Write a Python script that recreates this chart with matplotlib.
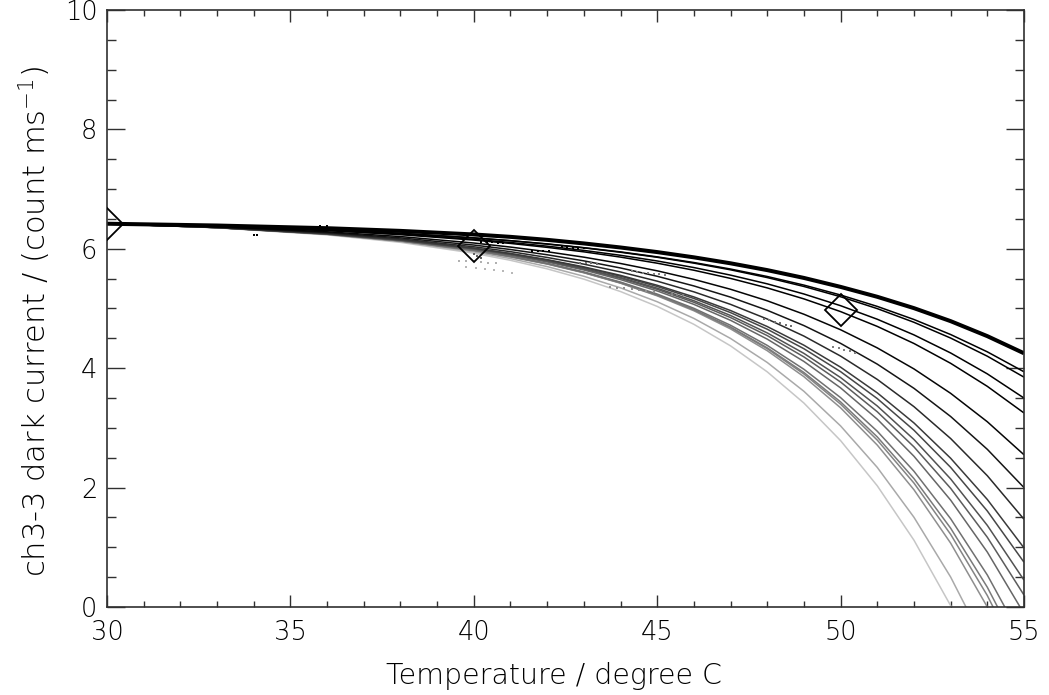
import matplotlib
matplotlib.use("Agg")
import matplotlib.pyplot as plt
from matplotlib.ticker import MultipleLocator

# Temperature grid (degree C) at which each curve was read
temperature = [30, 33, 36, 38, 40, 41, 42, 43, 44, 45, 46, 47, 48, 49, 50, 51, 52, 53, 54, 55]

# Dark current curves (count ms^-1), top (thick black) to bottom (lightest grey)
c00 = [6.42, 6.390, 6.345, 6.300, 6.240, 6.200, 6.150, 6.090, 6.022, 5.945, 5.857, 5.757, 5.643, 5.512, 5.362, 5.196, 5.006, 4.788, 4.537, 4.25]
c01 = [6.42, 6.380, 6.318, 6.260, 6.183, 6.136, 6.082, 6.019, 5.948, 5.865, 5.770, 5.661, 5.536, 5.392, 5.226, 5.035, 4.816, 4.564, 4.274, 3.94]
c02 = [6.42, 6.380, 6.318, 6.260, 6.182, 6.135, 6.079, 6.016, 5.942, 5.858, 5.760, 5.648, 5.518, 5.369, 5.197, 4.998, 4.769, 4.505, 4.201, 3.85]
c03 = [6.42, 6.376, 6.309, 6.245, 6.159, 6.106, 6.044, 5.973, 5.891, 5.796, 5.686, 5.559, 5.413, 5.243, 5.047, 4.820, 4.558, 4.255, 3.905, 3.50]
c04 = [6.42, 6.375, 6.305, 6.237, 6.146, 6.090, 6.024, 5.949, 5.861, 5.759, 5.641, 5.504, 5.345, 5.161, 4.948, 4.700, 4.414, 4.082, 3.696, 3.25]
c05 = [6.42, 6.367, 6.285, 6.205, 6.097, 6.029, 5.951, 5.860, 5.754, 5.631, 5.488, 5.322, 5.129, 4.904, 4.644, 4.340, 3.988, 3.579, 3.103, 2.55]
c06 = [6.42, 6.363, 6.272, 6.183, 6.063, 5.988, 5.900, 5.798, 5.679, 5.540, 5.378, 5.190, 4.970, 4.714, 4.416, 4.068, 3.663, 3.191, 2.641, 2.00]
c07 = [6.42, 6.359, 6.261, 6.165, 6.034, 5.952, 5.855, 5.743, 5.612, 5.458, 5.279, 5.069, 4.824, 4.538, 4.203, 3.812, 3.356, 2.822, 2.199, 1.47]
c08 = [6.42, 6.356, 6.252, 6.150, 6.011, 5.922, 5.819, 5.697, 5.555, 5.389, 5.194, 4.966, 4.698, 4.385, 4.017, 3.587, 3.083, 2.492, 1.801, 0.99]
c09 = [6.42, 6.356, 6.252, 6.149, 6.007, 5.917, 5.811, 5.687, 5.541, 5.369, 5.168, 4.931, 4.653, 4.326, 3.942, 3.491, 2.961, 2.339, 1.608, 0.75]
c10 = [6.42, 6.356, 6.251, 6.146, 6.000, 5.908, 5.799, 5.670, 5.519, 5.340, 5.130, 4.883, 4.591, 4.248, 3.843, 3.367, 2.806, 2.145, 1.367, 0.45]
c11 = [6.42, 6.356, 6.251, 6.145, 5.997, 5.903, 5.792, 5.660, 5.505, 5.321, 5.104, 4.848, 4.546, 4.189, 3.768, 3.270, 2.682, 1.988, 1.168, 0.20]
c12 = [6.42, 6.356, 6.250, 6.142, 5.992, 5.895, 5.780, 5.645, 5.484, 5.294, 5.069, 4.802, 4.487, 4.113, 3.670, 3.146, 2.525, 1.790, 0.920, -0.11]
c13 = [6.42, 6.355, 6.245, 6.134, 5.977, 5.875, 5.755, 5.612, 5.443, 5.242, 5.003, 4.719, 4.382, 3.982, 3.507, 2.944, 2.274, 1.479, 0.536, -0.59]
c14 = [6.42, 6.355, 6.246, 6.134, 5.975, 5.873, 5.751, 5.605, 5.432, 5.226, 4.981, 4.689, 4.341, 3.928, 3.435, 2.849, 2.151, 1.320, 0.331, -0.85]
c15 = [6.42, 6.355, 6.245, 6.132, 5.972, 5.868, 5.748, 5.603, 5.428, 5.220, 4.977, 4.680, 4.326, 3.903, 3.398, 2.795, 2.076, 1.217, 0.192, -1.03]
c16 = [6.42, 6.354, 6.244, 6.130, 5.968, 5.864, 5.744, 5.598, 5.424, 5.212, 4.962, 4.658, 4.293, 3.858, 3.336, 2.712, 1.964, 1.070, 0.000, -1.28]
c17 = [6.42, 6.354, 6.240, 6.121, 5.949, 5.837, 5.702, 5.540, 5.346, 5.113, 4.834, 4.498, 4.096, 3.613, 3.033, 2.338, 1.503, 0.502, -0.700, -2.14]
c18 = [6.42, 6.352, 6.233, 6.108, 5.926, 5.807, 5.664, 5.492, 5.284, 5.035, 4.735, 4.374, 3.939, 3.416, 2.787, 2.030, 1.119, 0.023, -1.300, -2.88]

curves = [c00, c01, c02, c03, c04, c05, c06, c07, c08, c09,
          c10, c11, c12, c13, c14, c15, c16, c17, c18]
curve_colors = ["#000000", "#000000", "#000000", "#000000", "#000000", "#050505",
                "#151515", "#2a2a2a", "#3a3a3a", "#474747", "#525252", "#5c5c5c",
                "#666666", "#707070", "#7a7a7a", "#848484", "#8e8e8e", "#a9a9a9",
                "#c6c6c6"]

# Diamond symbols
diamond_t = [30, 40, 50]
diamond_v = [6.42, 6.05, 4.97]

# Small dotted measurement clusters
dots_a_t = [34.0, 34.1]
dots_a_v = [6.23, 6.23]
dots_b_t = [35.8, 36.0]
dots_b_v = [6.38, 6.38]
dots_c_t = [40.2, 40.35, 40.5, 40.65, 40.8]
dots_c_v = [6.12, 6.11, 6.11, 6.10, 6.10]
dots_d_t = [41.6, 41.75, 41.9, 42.05]
dots_d_v = [5.97, 5.97, 5.96, 5.96]
dots_e_t = [42.4, 42.55, 42.7, 42.85, 43.0]
dots_e_v = [6.03, 6.03, 6.02, 6.02, 6.01]
dots_f_t = [42.9, 43.05, 43.2, 43.35]
dots_f_v = [5.77, 5.76, 5.76, 5.75]
dots_g_t = [44.3, 44.45, 44.6, 44.75, 44.9, 45.05, 45.2]
dots_g_v = [5.62, 5.61, 5.60, 5.59, 5.58, 5.57, 5.56]
dots_h_t = [43.7, 43.9, 44.1, 44.3, 44.5, 44.7, 44.9]
dots_h_v = [5.36, 5.35, 5.34, 5.32, 5.31, 5.29, 5.28]
dots_i_t = [45.4, 45.55, 45.7]
dots_i_v = [5.24, 5.23, 5.22]
dots_j_t = [47.9, 48.05, 48.2, 48.35, 48.5, 48.65]
dots_j_v = [4.82, 4.80, 4.78, 4.75, 4.73, 4.70]
dots_k_t = [49.8, 49.95, 50.1, 50.25, 50.4]
dots_k_v = [4.36, 4.34, 4.31, 4.28, 4.25]
dots_l_t = [39.6, 39.8, 40.0, 40.2, 40.4, 40.6]
dots_l_v = [5.80, 5.79, 5.79, 5.78, 5.77, 5.76]
dots_m_t = [39.8, 40.05, 40.3, 40.55, 40.8, 41.05]
dots_m_v = [5.70, 5.68, 5.66, 5.64, 5.62, 5.60]
dots_n_t = [40.0, 40.1, 40.2]
dots_n_v = [5.92, 5.88, 5.84]

dot_sets = [
    (dots_a_t, dots_a_v, "#000000"), (dots_b_t, dots_b_v, "#000000"),
    (dots_c_t, dots_c_v, "#000000"), (dots_d_t, dots_d_v, "#000000"),
    (dots_e_t, dots_e_v, "#000000"), (dots_f_t, dots_f_v, "#707070"),
    (dots_g_t, dots_g_v, "#808080"), (dots_h_t, dots_h_v, "#909090"),
    (dots_i_t, dots_i_v, "#808080"), (dots_j_t, dots_j_v, "#707070"),
    (dots_k_t, dots_k_v, "#808080"), (dots_l_t, dots_l_v, "#b0b0b0"),
    (dots_m_t, dots_m_v, "#b8b8b8"), (dots_n_t, dots_n_v, "#606060"),
]

x_ticks = [30, 35, 40, 45, 50, 55]
y_ticks = [0, 2, 4, 6, 8, 10]

plt.rcParams["font.family"] = ["DejaVu Sans"]
plt.rcParams["font.weight"] = "light"
fig = plt.figure(figsize=(10.49, 6.95), dpi=100)
ax = fig.add_axes([107 / 1049, 88 / 695, 917 / 1049, 597 / 695])

n = len(curves)
for i in range(n - 1, -1, -1):
    lw = 2.9 if i == 0 else 1.1
    ax.plot(temperature, curves[i], color=curve_colors[i], lw=lw,
            solid_joinstyle="round", solid_capstyle="butt", zorder=2 + (n - i) * 0.01)

for tt, vv, col in dot_sets:
    ax.plot(tt, vv, linestyle="none", marker="s", ms=1.6, mew=0,
            color=col, zorder=3)

ax.plot(diamond_t, diamond_v, linestyle="none", marker="D", ms=16,
        mfc="none", mec="black", mew=1.3, zorder=4)

ax.set_xlim(30, 55)
ax.set_ylim(0, 10)
ax.set_xticks(x_ticks)
ax.set_yticks(y_ticks)
ax.xaxis.set_minor_locator(MultipleLocator(1))
ax.yaxis.set_minor_locator(MultipleLocator(0.5))

axis_col = "#303030"
for sp in ax.spines.values():
    sp.set_color(axis_col)
    sp.set_linewidth(1.2)
ax.tick_params(which="both", direction="in", top=True, right=True,
               color=axis_col, width=1.0, labelsize=18.5, labelcolor="black")
ax.tick_params(axis="x", which="major", length=8.6, pad=9)
ax.tick_params(axis="x", which="minor", length=4.3)
ax.tick_params(axis="y", which="major", length=13, pad=7)
ax.tick_params(axis="y", which="minor", length=6.5)

fig.text(554 / 1049, (695 - 676) / 695, "Temperature / degree C",
         ha="center", va="center", fontsize=20.5, color="black")
fig.text(35 / 1049, (695 - 321) / 695, "ch3-3 dark current / (count ms$^{-1}$)",
         ha="center", va="center", rotation=90, fontsize=22, color="black")

fig.savefig("out.png", dpi=100)
